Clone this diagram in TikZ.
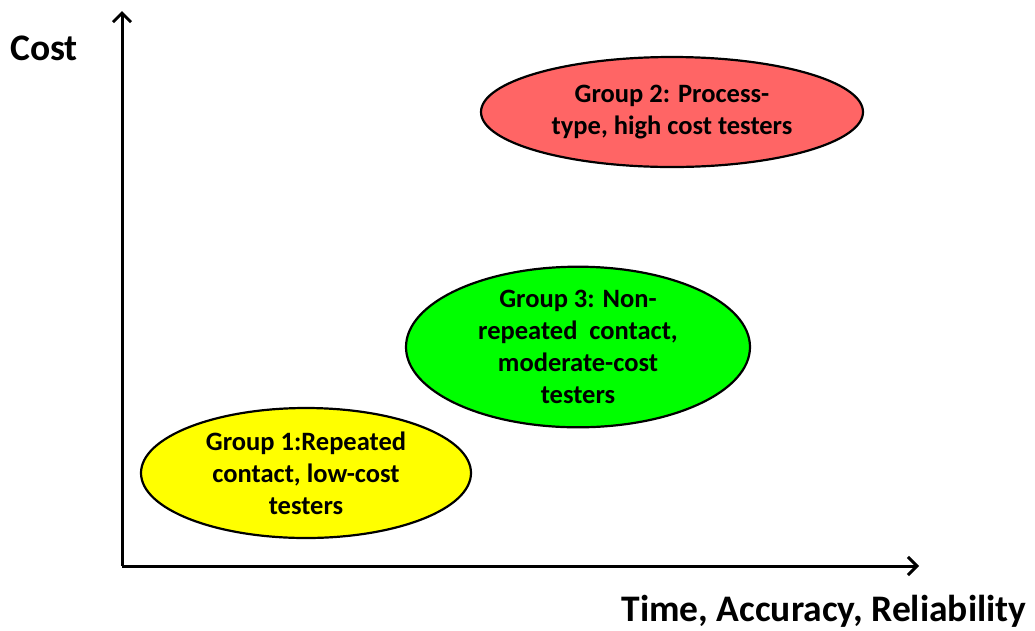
\documentclass[tikz,border=0pt]{standalone}
\usepackage{fontspec}
\setmainfont{Carlito}
\usetikzlibrary{arrows.meta,shapes.geometric}
\definecolor{grpyellow}{HTML}{FFFF00}
\definecolor{grpgreen}{HTML}{00FF00}
\definecolor{grpred}{HTML}{FF6565}
\begin{document}
\begin{tikzpicture}[x=1pt,y=-1pt,
  axis/.style={line width=3pt,-{Straight Barb[length=9pt,width=18pt,line width=3pt]}},
  group/.style={ellipse,draw=black,line width=2.2pt,inner sep=0pt,align=center,
    font=\fontsize{26.5}{32}\selectfont\bfseries},
  axislabel/.style={font=\fontsize{37.5}{40}\selectfont\bfseries}]
\useasboundingbox (0,0) rectangle (1035,630);
% axes
\coordinate (origin) at (122,566);
\coordinate (ytip) at (122,11);
\coordinate (xtip) at (919,566);
\draw[axis] (origin) -- (ytip);
\draw[axis] (origin) -- (xtip);
\node[axislabel] (ylab) at (44,48) {Cost};
\node[axislabel] (xlab) at (824,611) {Time, Accuracy, Reliability};
% groups
\node[group,fill=grpyellow,minimum width=330pt,minimum height=130pt] (g1) at (306,473)
  {Group 1:Repeated\\contact, low-cost\\testers};
\node[group,fill=grpgreen,minimum width=344pt,minimum height=125pt] (g3) at (578,347)
  {Group 3: Non-\\repeated\ \ contact,\\moderate-cost\\testers};
\node[group,fill=grpred,minimum width=382pt,minimum height=110pt] (g2) at (672,112)
  {Group 2: Process-\\type, high cost testers};
\end{tikzpicture}
\end{document}
